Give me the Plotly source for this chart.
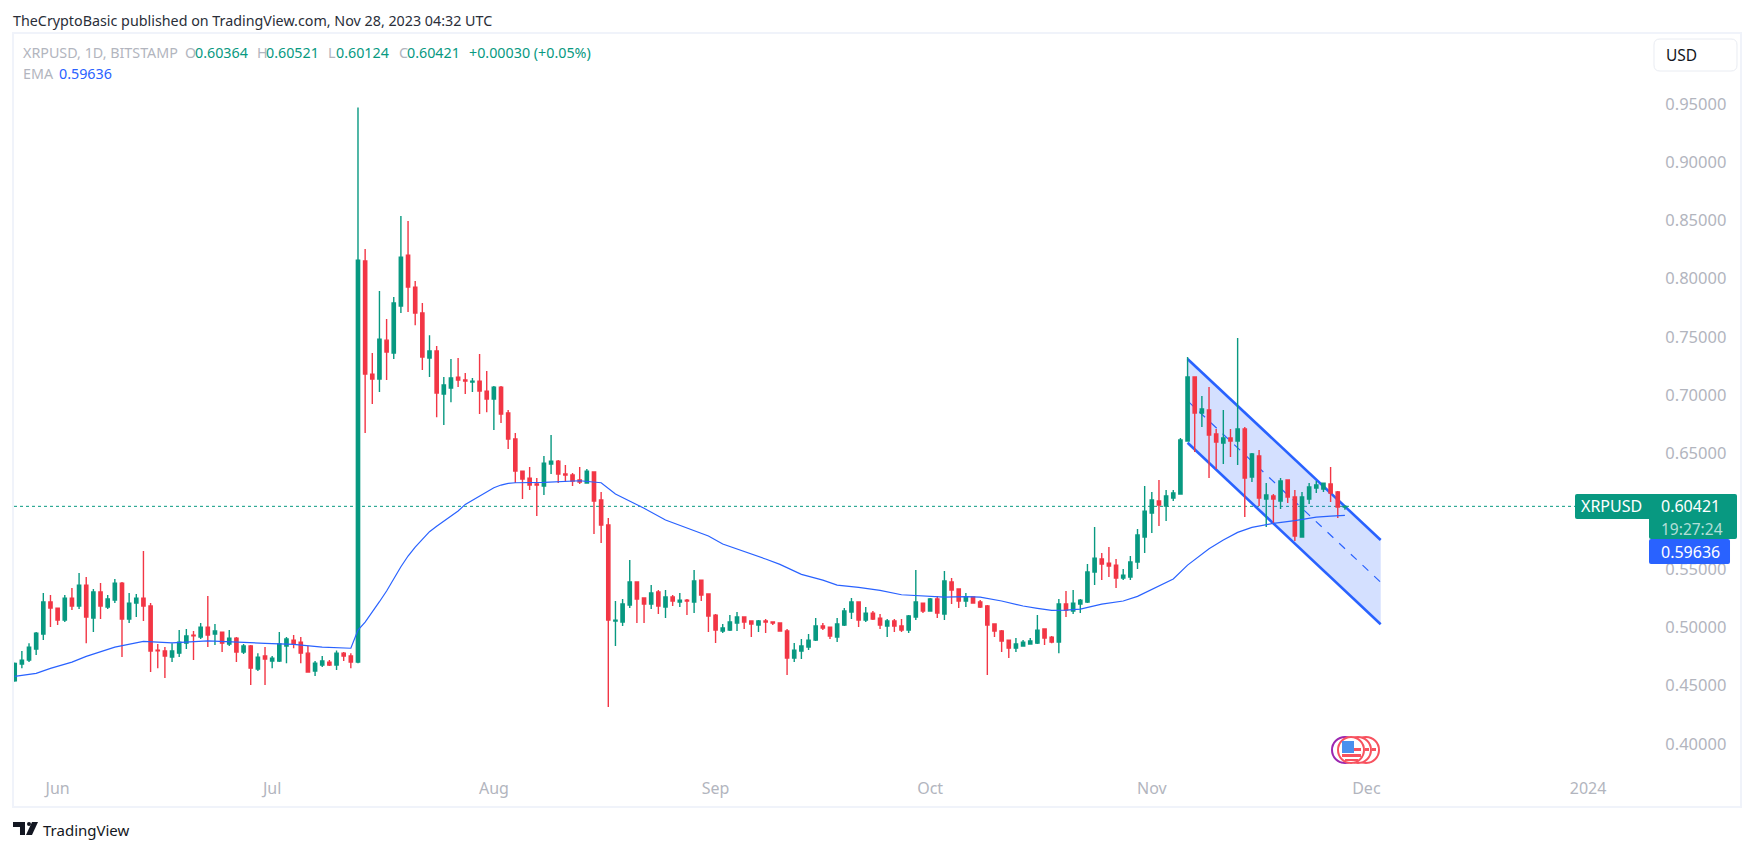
import pandas as pd
import plotly.graph_objects as go

first_day = "2023-05-26"
opens = [.4543,.4686,.4720,.4815,.4944,.5219,.5167,.5064,.5253,.5185,
 .5365,.5081,.5305,.5176,.5236,.5382,.5073,.5210,.5253,.5185,
 .4806,.4798,.4746,.4780,.4866,.4935,.4918,.5004,.4944,.4961,
 .4858,.4909,.4789,.4841,.4643,.4755,.4712,.4712,.4841,.4892,
 .4875,.4780,.4626,.4677,.4703,.4677,.4780,.4755,.4703,.8151,
 .7179,.7136,.7471,.7360,.7764,.8202,.7927,.7704,.7317,.7377,
 .7007,.7059,.7153,.7128,.7110,.7119,.7033,.6964,.7067,.6844,
 .6621,.6345,.6285,.6234,.6217,.6406,.6431,.6320,.6311,.6268,
 .6242,.6337,.6096,.5881,.5056,.5047,.5193,.5391,.5254,.5202,
 .5305,.5176,.5262,.5219,.5236,.5219,.5408,.5288,.5107,.4970,
 .4978,.5039,.5090,.5056,.5021,.5056,.5047,.5039,.4970,.4738,
 .4798,.4832,.4892,.5013,.5004,.4918,.5021,.5133,.5219,.5064,
 .5124,.5081,.5013,.5056,.5013,.4978,.5090,.5210,.5142,.5245,
 .5116,.5391,.5331,.5228,.5262,.5219,.5185,.5030,.4970,.4892,
 .4823,.4841,.4858,.4866,.4987,.4918,.4875,.5202,.5142,.5202,
 .5219,.5477,.5589,.5554,.5537,.5425,.5434,.5563,.5778,.5985,
 .6088,.6045,.6114,.6148,.6604,.7154,.6844,.6870,.6664,.6586,
 .6629,.6604,.6707,.6294,.6475,.6105,.6131,.6088,.6268,.6122,
 .5778,.6105,.6200,.6191,.6234,.6165,.60364]
highs = [.4700,.4798,.4866,.4961,.5296,.5279,.5167,.5279,.5339,.5468,
 .5434,.5331,.5382,.5279,.5417,.5391,.5296,.5288,.5657,.5210,
 .4858,.4832,.4866,.4978,.4987,.4970,.5038,.5271,.5030,.4961,
 .4978,.4918,.4858,.4849,.4780,.4832,.4755,.4961,.4918,.4935,
 .4918,.4841,.4712,.4755,.4720,.4803,.4789,.4780,.9472,.8254,
 .7360,.7893,.7652,.7841,.8538,.8495,.7979,.7790,.7514,.7420,
 .7153,.7308,.7317,.7188,.7145,.7351,.7205,.7076,.7076,.6870,
 .6672,.6345,.6380,.6285,.6474,.6655,.6440,.6397,.6328,.6380,
 .6363,.6337,.6165,.5941,.5228,.5245,.5580,.5391,.5254,.5365,
 .5322,.5322,.5279,.5297,.5245,.5494,.5408,.5288,.5116,.5030,
 .5107,.5133,.5090,.5056,.5064,.5073,.5047,.5039,.4987,.4867,
 .4901,.4944,.5082,.5039,.5004,.5082,.5167,.5253,.5219,.5176,
 .5142,.5116,.5073,.5073,.5073,.5107,.5494,.5210,.5253,.5271,
 .5486,.5425,.5331,.5296,.5262,.5236,.5193,.5030,.4978,.4892,
 .4909,.4892,.4909,.5107,.4987,.4927,.5245,.5314,.5322,.5245,
 .5546,.5864,.5640,.5692,.5589,.5503,.5615,.5847,.6217,.6165,
 .6268,.6182,.6182,.6629,.7326,.7154,.6991,.7068,.6707,.6870,
 .6707,.7489,.6724,.6500,.6526,.6242,.6148,.6285,.6268,.6182,
 .6165,.6242,.6260,.6242,.6380,.6174,.60521]
lows = [.4534,.4651,.4703,.4763,.4892,.5004,.5021,.5047,.5150,.5159,
 .4866,.4961,.5073,.5159,.5210,.4746,.5038,.5090,.5056,.4617,
 .4651,.4566,.4703,.4746,.4815,.4720,.4901,.4832,.4849,.4789,
 .4841,.4703,.4772,.4505,.4626,.4505,.4651,.4703,.4694,.4823,
 .4694,.4617,.4583,.4660,.4669,.4634,.4712,.4651,.4694,.6672,
 .6921,.7024,.7128,.7308,.7704,.7712,.7600,.7214,.7153,.6809,
 .6741,.6938,.7067,.7007,.7024,.6835,.6852,.6698,.6758,.6534,
 .6242,.6105,.6182,.5959,.6139,.6320,.6242,.6251,.6217,.6234,
 .6242,.5804,.5726,.4316,.4841,.5013,.5168,.5039,.5039,.5159,
 .5116,.5082,.5185,.5176,.5107,.5125,.5228,.4961,.4867,.4953,
 .4970,.4970,.4987,.4918,.4961,.4953,.5021,.4970,.4592,.4703,
 .4729,.4806,.4884,.4978,.4901,.4875,.5013,.5073,.5004,.5047,
 .5064,.4987,.4918,.4961,.4961,.4952,.5064,.5124,.5142,.5081,
 .5064,.5202,.5167,.5176,.5210,.5167,.4591,.4918,.4789,.4738,
 .4789,.4841,.4858,.4858,.4849,.4866,.4780,.5090,.5116,.5124,
 .5210,.5365,.5408,.5434,.5339,.5408,.5408,.5503,.5640,.5813,
 .5873,.5916,.6088,.6148,.6604,.6509,.6724,.6285,.6363,.6406,
 .6466,.6397,.5950,.6251,.6045,.5864,.5890,.6019,.6071,.5744,
 .5778,.6062,.6157,.6165,.6079,.5942,.60124]
closes = [.4692,.4720,.4832,.4952,.5219,.5167,.5064,.5253,.5185,.5365,
 .5090,.5305,.5185,.5245,.5382,.5073,.5210,.5253,.5185,.4798,
 .4801,.4755,.4798,.4875,.4927,.4929,.5004,.4935,.4970,.4866,
 .4909,.4789,.4841,.4651,.4746,.4729,.4737,.4858,.4901,.4864,
 .4780,.4617,.4694,.4712,.4677,.4780,.4755,.4703,.8159,.7179,
 .7136,.7480,.7368,.7790,.8185,.7927,.7704,.7325,.7377,.7016,
 .7085,.7145,.7128,.7119,.7119,.7033,.6964,.7067,.6835,.6620,
 .6345,.6277,.6225,.6225,.6414,.6431,.6320,.6311,.6260,.6251,
 .6345,.6088,.5881,.5064,.5064,.5202,.5391,.5245,.5202,.5297,
 .5185,.5262,.5228,.5236,.5228,.5400,.5279,.5099,.4978,.4996,
 .5047,.5090,.5047,.5030,.5056,.5047,.5039,.4970,.4738,.4806,
 .4841,.4892,.5013,.4996,.4927,.5030,.5142,.5219,.5064,.5124,
 .5073,.5021,.5056,.5013,.4978,.5099,.5219,.5142,.5245,.5124,
 .5400,.5322,.5228,.5262,.5210,.5176,.5021,.4970,.4884,.4823,
 .4858,.4875,.4884,.4978,.4909,.4875,.5202,.5150,.5210,.5236,
 .5477,.5597,.5546,.5529,.5425,.5451,.5563,.5795,.6001,.6096,
 .6053,.6131,.6157,.6612,.7154,.6844,.6879,.6655,.6595,.6629,
 .6604,.6707,.6285,.6492,.6114,.6139,.6105,.6260,.6122,.5787,
 .6122,.6208,.6225,.6242,.6157,.6036,.60421]

ema_days = [0,3,5,8,10,14,18,22,27,31,35,39,43,47,48,49,50,51,52,53,54,55,56,57,58,59,60,
 61,62,63,64,65,66,67,68,69,70,74,79,82,84,86,88,91,94,97,99,102,105,107,110,113,115,118,
 121,124,127,130,133,135,138,141,143,145,147,149,152,155,157,159,160,162,164,167,169,171,
 173,176,179,182,184,186]
ema_values = [.4580,.4606,.4649,.4703,.4752,.4832,.4881,.4869,.4886,.4878,.4864,.4855,.4832,.4822,
 .4978,.5047,.5130,.5222,.5314,.5423,.5523,.5615,.5692,.5758,.5824,.5870,.5916,
 .5959,.6002,.6059,.6096,.6131,.6168,.6202,.6225,.6239,.6245,.6248,.6262,.6245,.6148,.6090,
 .6025,.5924,.5853,.5787,.5718,.5655,.5589,.5543,.5457,.5408,.5365,.5345,
 .5319,.5282,.5271,.5262,.5265,.5262,.5228,.5185,.5165,.5147,.5150,.5159,.5202,.5228,.5268,
 .5330,.5359,.5417,.5537,.5678,.5752,.5818,.5861,.5896,.5919,.5950,.5958,.59636]

channel_dates = ["2023-11-06", "2023-12-03"]
channel_upper = [.7309, .5753]
channel_middle = [.6949, .5390]
channel_lower = [.6589, .5028]

price_ticks = [.40,.45,.50,.55,.65,.70,.75,.80,.85,.90,.95]
time_tick_dates = ["2023-06-01","2023-07-01","2023-08-01","2023-09-01","2023-10-01","2023-11-01","2023-12-01","2024-01-01"]
time_tick_labels = ["Jun","Jul","Aug","Sep","Oct","Nov","Dec","2024"]
last_price = 0.60421

GREEN, RED, BLUE = "#089981", "#f23645", "#2962ff"
GREY, DARK = "#b2b5be", "#131722"
FONT = "Noto Sans"
L, R, T, B = 14, 1656, 34, 772
W, H = 1754, 851
px = lambda x: (x - L) / (R - L)
py = lambda y: 1 - (y - T) / (B - T)

dates = pd.date_range(first_day, periods=len(opens))
ema_dates = [dates[i] for i in ema_days]

fig = go.Figure()
fig.add_trace(go.Candlestick(
    x=dates, open=opens, high=highs, low=lows, close=closes, whiskerwidth=0,
    increasing=dict(line=dict(color=GREEN, width=1.4), fillcolor=GREEN),
    decreasing=dict(line=dict(color=RED, width=1.4), fillcolor=RED),
    hoverinfo="skip", showlegend=False))
fig.add_trace(go.Scatter(x=ema_dates, y=ema_values, mode="lines",
    line=dict(color=BLUE, width=1.2), hoverinfo="skip", showlegend=False))

shapes = []
def box(x0, y0, x1, y1, fill=None, line=None, lw=0, layer="above", kind="rect"):
    shapes.append(dict(type=kind, xref="paper", yref="paper", x0=px(x0), x1=px(x1), y0=py(y0), y1=py(y1),
                       fillcolor=fill or "rgba(0,0,0,0)", layer=layer,
                       line=dict(color=line or "rgba(0,0,0,0)", width=lw)))
def poly(points, fill):
    d = "M" + " L".join(f"{px(a):.5f},{py(b):.5f}" for a, b in points) + " Z"
    shapes.append(dict(type="path", xref="paper", yref="paper", path=d, fillcolor=fill, line=dict(width=0), layer="above"))
def rounded(x0, y0, x1, y1, r, fill, line=None, lw=0):
    P = lambda a, b: f"{px(a):.5f},{py(b):.5f}"
    d = (f"M{P(x0 + r, y0)} L{P(x1 - r, y0)} Q{P(x1, y0)} {P(x1, y0 + r)} L{P(x1, y1 - r)} Q{P(x1, y1)} {P(x1 - r, y1)} "
         f"L{P(x0 + r, y1)} Q{P(x0, y1)} {P(x0, y1 - r)} L{P(x0, y0 + r)} Q{P(x0, y0)} {P(x0 + r, y0)} Z")
    shapes.append(dict(type="path", xref="paper", yref="paper", path=d, fillcolor=fill, layer="above",
                       line=dict(color=line or "rgba(0,0,0,0)", width=lw)))

# frame
box(13, 33, 1741, 807, line="#f0f3fa", lw=2, layer="below")
# channel
d0, d1 = channel_dates
shapes.append(dict(type="path", xref="x", yref="y", layer="below", line=dict(width=0), fillcolor="rgba(41,98,255,0.2)",
    path=f"M{d0},{channel_upper[0]} L{d1},{channel_upper[1]} L{d1},{channel_lower[1]} L{d0},{channel_lower[0]} Z"))
for ys, w, dash in [(channel_upper, 2.6, "solid"), (channel_lower, 2.6, "solid"), (channel_middle, 1.2, "8px,8px")]:
    shapes.append(dict(type="line", xref="x", yref="y", layer="below", x0=d0, x1=d1, y0=ys[0], y1=ys[1],
                       line=dict(color=BLUE, width=w, dash=dash)))
# last price line
shapes.append(dict(type="line", xref="paper", yref="y", layer="below", x0=0, x1=px(1575), y0=last_price, y1=last_price,
                   line=dict(color=GREEN, width=1, dash="dot")))
# price tags
rounded(1575, 494, 1737, 519, 2, GREEN)
rounded(1649, 510, 1737, 539, 2, GREEN)
rounded(1649, 539, 1730, 564, 2, BLUE)
# USD button
rounded(1654, 39, 1737, 71, 6, "white", "#e9ecf2", 1)
# events icon
box(1332, 737, 1358, 763, fill="white", line="#9c27b0", lw=2, kind="circle")
box(1353, 737, 1379, 763, fill="white", line="#f7525f", lw=2, kind="circle")
box(1345, 737, 1371, 763, fill="white", line="#f7525f", lw=2, kind="circle")
box(1338, 737, 1364, 763, fill="white", line="#f7525f", lw=2, kind="circle")
box(1372, 748, 1376, 751, fill="#f7525f")
box(1365, 748, 1369, 751, fill="#f7525f")
box(1342, 741, 1354, 753, fill="#4a90ee")
box(1354, 748, 1361, 751, fill="#f7525f")
box(1342, 754, 1361, 757, fill="#f7525f")
box(1345, 759, 1358, 761, fill="#f7525f")
# TradingView logo
poly([(13, 822), (25, 822), (25, 835), (20, 835), (20, 827), (13, 827)], DARK)
box(27, 822, 31, 826, fill=DARK, kind="circle")
poly([(32, 822), (38, 822), (32, 835), (26, 835)], DARK)

def text(x, y, s, color, size, anchor="left"):
    return dict(xref="paper", yref="paper", x=px(x), y=py(y), text=s, showarrow=False, xanchor=anchor, yanchor="middle",
                font=dict(family=FONT, size=size, color=color), borderpad=0, borderwidth=0)

notes = [
    text(13, 20, "TheCryptoBasic published on TradingView.com, Nov 28, 2023 04:32 UTC", "#2a2e39", 14.3),
    text(23, 53, "XRPUSD, 1D, BITSTAMP", GREY, 14.3),
    text(185, 53, "O", GREY, 14.3), text(194.5, 53, "0.60364", GREEN, 14.3),
    text(257, 53, "H", GREY, 14.3), text(266, 53, "0.60521", GREEN, 14.3),
    text(328, 53, "L", GREY, 14.3), text(336, 53, "0.60124", GREEN, 14.3),
    text(398.6, 53, "C", GREY, 14.3), text(406.5, 53, "0.60421", GREEN, 14.3),
    text(468.6, 53, "+0.00030 (+0.05%)", GREEN, 14.3),
    text(23, 74, "EMA", GREY, 14.3), text(59.3, 74, "0.59636", BLUE, 14.3),
    text(1666, 55, "USD", DARK, 15.5),
    text(1581, 506, "XRPUSD", "white", 16), text(1661, 506, "0.60421", "white", 16),
    text(1661, 529, "19:27:24", "rgba(255,255,255,0.7)", 15.5),
    text(1661, 552, "0.59636", "white", 16),
    text(43, 830, "TradingView", DARK, 15),
]

fig.update_layout(
    width=W, height=H, autosize=False, paper_bgcolor="white", plot_bgcolor="white",
    margin=dict(l=L, r=W - R, t=T, b=H - B, pad=0), boxgap=0.35, showlegend=False,
    shapes=shapes, annotations=notes, hovermode=False,
    xaxis=dict(type="date", range=["2023-05-25 21:36", "2024-01-10 12:00"], rangeslider=dict(visible=False),
               showgrid=False, zeroline=False, showline=False, tickmode="array", tickvals=time_tick_dates,
               ticktext=time_tick_labels, ticks="outside", ticklen=2, tickcolor="rgba(0,0,0,0)",
               tickfont=dict(family=FONT, size=16, color=GREY)),
    yaxis=dict(range=[0.3758, 1.0103], side="right", showgrid=False, zeroline=False, showline=False,
               tickmode="array", tickvals=price_ticks, tickformat=".5f", ticks="outside", ticklen=5,
               tickcolor="rgba(0,0,0,0)", tickfont=dict(family=FONT, size=16.5, color=GREY)),
)
fig.write_html("out.html", config=dict(displayModeBar=False), post_script="document.body.style.margin='0';")
